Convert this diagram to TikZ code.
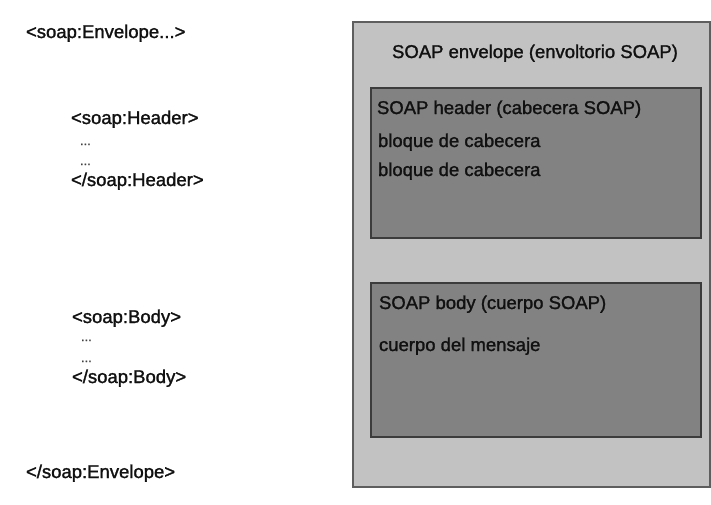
\documentclass[tikz,border=0pt]{standalone}
\usepackage{fontspec}
\setmainfont{Liberation Sans}
% slightly heavier strokes for all labels
\newfontface\heavy{Liberation Sans}[FakeBold=1.4]
\definecolor{envfill}{HTML}{C2C2C2}
\definecolor{envline}{HTML}{5E5E5E}
\definecolor{blockfill}{HTML}{828282}
\definecolor{blockline}{HTML}{3C3C3C}
\definecolor{ink}{HTML}{111111}
\begin{document}
\begin{tikzpicture}[x=1pt,y=-1pt,
  every node/.style={inner sep=0pt,outer sep=0pt,text=ink,font=\heavy\fontsize{18.5}{21}\selectfont},
  code/.style={anchor=base west},
  dots/.style={anchor=base west,font=\heavy\fontsize{13}{15}\selectfont,text=ink!80},
  label/.style={anchor=base west},
  envbox/.style={draw=envline,line width=1.2pt,fill=envfill},
  blockbox/.style={draw=blockline,line width=1.2pt,fill=blockfill}]
\useasboundingbox (0,0) rectangle (711,504);
\fill[white] (0,0) rectangle (711,504);
% XML skeleton on the left
\node[code] (envopen) at (26,38) {<soap:Envelope...>};
\node[code] (hdopen) at (71,124) {<soap:Header>};
\node[dots] (hddots1) at (80,145) {...};
\node[dots] (hddots2) at (80,165) {...};
\node[code] (hdclose) at (71,186) {</soap:Header>};
\node[code] (bdopen) at (72,323) {<soap:Body>};
\node[dots] (bddots1) at (81,341) {...};
\node[dots] (bddots2) at (81,362) {...};
\node[code] (bdclose) at (72,383) {</soap:Body>};
\node[code] (envclose) at (26,478) {</soap:Envelope>};
% nested boxes on the right
\draw[envbox] (353,22) rectangle (710,487);
\node[anchor=base] (envtitle) at (535,58) {SOAP envelope (envoltorio SOAP)};
\draw[blockbox] (371,88) rectangle (701,238);
\node[label] (hdtitle) at (377,114) {SOAP header (cabecera SOAP)};
\node[label] (hdblk1) at (378,147) {bloque de cabecera};
\node[label] (hdblk2) at (378,176) {bloque de cabecera};
\draw[blockbox] (371,283) rectangle (701,437);
\node[label] (bdtitle) at (379,309) {SOAP body (cuerpo SOAP)};
\node[label] (bdmsg) at (379,351) {cuerpo del mensaje};
\end{tikzpicture}
\end{document}
